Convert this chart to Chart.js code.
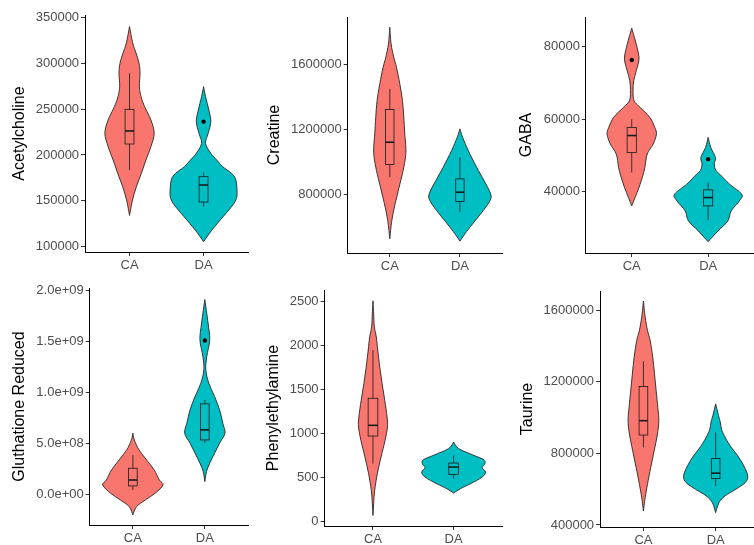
<!DOCTYPE html>
<html>
<head>
<meta charset="utf-8">
<script src="https://cdn.jsdelivr.net/npm/chart.js@4.4.1/dist/chart.umd.min.js"></script>
<style>
  html, body { margin: 0; padding: 0; background: #ffffff; overflow: hidden; width: 754px; height: 545px; }
  .panel { position: absolute; }
</style>
</head>
<body>
<script>
// ---- groups ----
const categories = ['CA', 'DA'];
const groupColors = ['#F8766D', '#00BFC4'];

// ---- violin outlines: levels (descending) and half-widths (in category units) ----
const achCA_y = [339760, 321700, 310800, 299900, 289000, 274400, 263500, 252600, 238100, 223600, 209000, 194500, 180000, 165400, 150900, 134000];
const achCA_w = [0, 0.044, 0.089, 0.129, 0.142, 0.133, 0.156, 0.204, 0.289, 0.333, 0.289, 0.222, 0.16, 0.093, 0.04, 0];
const achDA_y = [274400, 263500, 249000, 236300, 223500, 212600, 201700, 194400, 187200, 179900, 172700, 158100, 150900, 143600, 133000, 118000, 105400];
const achDA_w = [0, 0.027, 0.071, 0.098, 0.062, 0.027, 0.098, 0.178, 0.258, 0.378, 0.436, 0.453, 0.436, 0.378, 0.267, 0.111, 0];

const creCA_y = [1833000, 1730000, 1647000, 1585600, 1482500, 1379400, 1276300, 1173200, 1090700, 1028900, 946300, 843300, 740200, 637100, 523600];
const creCA_w = [0, 0.019, 0.057, 0.095, 0.143, 0.181, 0.2, 0.214, 0.229, 0.224, 0.19, 0.133, 0.076, 0.029, 0];
const creDA_y = [1204100, 1152600, 1070000, 967000, 884500, 802000, 760800, 698900, 616400, 554500, 509200];
const creDA_w = [0, 0.038, 0.119, 0.238, 0.343, 0.438, 0.429, 0.333, 0.181, 0.071, 0];

const gabaCA_y = [85060, 82570, 79820, 76600, 73380, 70620, 67860, 65100, 63270, 60510, 57750, 55910, 53150, 50390, 46710, 43950, 41200, 38440, 36140];
const gabaCA_w = [0, 0.034, 0.069, 0.095, 0.06, 0.026, 0.017, 0.03, 0.108, 0.237, 0.301, 0.323, 0.28, 0.202, 0.172, 0.138, 0.095, 0.043, 0];
const gabaDA_y = [54990, 52230, 49470, 47630, 45900, 44870, 42120, 39360, 37520, 34760, 32000, 29240, 26300];
const gabaDA_w = [0, 0.034, 0.095, 0.08, 0.1, 0.151, 0.28, 0.439, 0.409, 0.301, 0.258, 0.129, 0];

const gluCA_y = [6.0e8, 5.33e8, 4.35e8, 3.37e8, 2.39e8, 1.40e8, 9.1e7, 1.0e7, -5.6e7, -1.22e8, -2.03e8];
const gluCA_w = [0, 0.02, 0.086, 0.191, 0.296, 0.368, 0.419, 0.31, 0.173, 0.05, 0];
const gluDA_y = [1.910e9, 1.680e9, 1.516e9, 1.352e9, 1.221e9, 1.090e9, 9.59e8, 8.28e8, 6.97e8, 5.99e8, 5.01e8, 4.03e8, 3.05e8, 2.22e8, 1.24e8];
const gluDA_w = [0, 0.045, 0.068, 0.027, 0.014, 0.055, 0.136, 0.205, 0.25, 0.28, 0.205, 0.136, 0.068, 0.023, 0];

const pheCA_y = [2511, 2367, 2215, 2100, 1949, 1758, 1568, 1378, 1187, 1073, 921, 731, 541, 350, 199, 65];
const pheCA_w = [0, 0.008, 0.017, 0.041, 0.059, 0.084, 0.113, 0.146, 0.175, 0.179, 0.15, 0.1, 0.054, 0.021, 0.008, 0];
const pheDA_y = [902, 826, 750, 700, 655, 610, 560, 502, 426, 370, 320];
const pheDA_w = [0, 0.063, 0.25, 0.375, 0.388, 0.354, 0.396, 0.354, 0.209, 0.084, 0];

const tauCA_y = [1652100, 1562400, 1487800, 1431700, 1338100, 1245000, 1151400, 1057800, 983200, 908600, 814900, 721300, 627800, 553100, 478500];
const tauCA_w = [0, 0.024, 0.056, 0.093, 0.129, 0.153, 0.176, 0.199, 0.213, 0.194, 0.149, 0.101, 0.056, 0.024, 0];
const tauDA_y = [1076800, 1011200, 973800, 936600, 899100, 843000, 786900, 730800, 674700, 637300, 600000, 562600, 525100, 469000];
const tauDA_w = [0, 0.04, 0.065, 0.08, 0.12, 0.2, 0.305, 0.39, 0.444, 0.41, 0.28, 0.13, 0.046, 0];

// ---- box statistics: [lower whisker, Q1, median, Q3, upper whisker] ----
const achCA_box = [183600, 211900, 226100, 249700, 289000];
const achDA_box = [143600, 148700, 167200, 176300, 181000];
const creCA_box = [905100, 983500, 1121600, 1323700, 1451500];
const creDA_box = [688600, 754600, 812300, 894800, 1028900];
const gabaCA_box = [45330, 50850, 55500, 57750, 60050];
const gabaDA_box = [32190, 36140, 38440, 40550, 42580];
const gluCA_box = [4.2e7, 8.2e7, 1.40e8, 2.55e8, 3.86e8];
const gluDA_box = [5.04e8, 5.33e8, 6.32e8, 8.87e8, 9.26e8];
const pheCA_box = [655, 970, 1092, 1400, 1949];
const pheDA_box = [484, 533, 616, 662, 750];
const tauCA_box = [833600, 903000, 983200, 1173800, 1315700];
const tauDA_box = [618700, 659500, 689800, 771700, 917700];

// ---- outliers ----
const achCA_out = [];
const achDA_out = [236300];
const creCA_out = [];
const creDA_out = [];
const gabaCA_out = [76320];
const gabaDA_out = [49010];
const gluCA_out = [];
const gluDA_out = [1.509e9];
const pheCA_out = [];
const pheDA_out = [];
const tauCA_out = [];
const tauDA_out = [];

// ---- y tick values and labels ----
const achTicks = [100000, 150000, 200000, 250000, 300000, 350000];
const achTickLabels = ['100000', '150000', '200000', '250000', '300000', '350000'];
const creTicks = [800000, 1200000, 1600000];
const creTickLabels = ['800000', '1200000', '1600000'];
const gabaTicks = [40000, 60000, 80000];
const gabaTickLabels = ['40000', '60000', '80000'];
const gluTicks = [0, 5e8, 1e9, 1.5e9, 2e9];
const gluTickLabels = ['0.0e+00', '5.0e+08', '1.0e+09', '1.5e+09', '2.0e+09'];
const pheTicks = [0, 500, 1000, 1500, 2000, 2500];
const pheTickLabels = ['0', '500', '1000', '1500', '2000', '2500'];
const tauTicks = [400000, 800000, 1200000, 1600000];
const tauTickLabels = ['400000', '800000', '1200000', '1600000'];

// ---- panels ----
const panels = [
  { title: 'Acetylcholine', violins: [[achCA_y, achCA_w], [achDA_y, achDA_w]], boxes: [achCA_box, achDA_box], outliers: [achCA_out, achDA_out], ticks: achTicks, tickLabels: achTickLabels },
  { title: 'Creatine', violins: [[creCA_y, creCA_w], [creDA_y, creDA_w]], boxes: [creCA_box, creDA_box], outliers: [creCA_out, creDA_out], ticks: creTicks, tickLabels: creTickLabels },
  { title: 'GABA', violins: [[gabaCA_y, gabaCA_w], [gabaDA_y, gabaDA_w]], boxes: [gabaCA_box, gabaDA_box], outliers: [gabaCA_out, gabaDA_out], ticks: gabaTicks, tickLabels: gabaTickLabels },
  { title: 'Gluthatione Reduced', violins: [[gluCA_y, gluCA_w], [gluDA_y, gluDA_w]], boxes: [gluCA_box, gluDA_box], outliers: [gluCA_out, gluDA_out], ticks: gluTicks, tickLabels: gluTickLabels },
  { title: 'Phenylethylamine', violins: [[pheCA_y, pheCA_w], [pheDA_y, pheDA_w]], boxes: [pheCA_box, pheDA_box], outliers: [pheCA_out, pheDA_out], ticks: pheTicks, tickLabels: pheTickLabels },
  { title: 'Taurine', violins: [[tauCA_y, tauCA_w], [tauDA_y, tauDA_w]], boxes: [tauCA_box, tauDA_box], outliers: [tauCA_out, tauDA_out], ticks: tauTicks, tickLabels: tauTickLabels }
];

// ---- page geometry of each panel (title centre x, axis x, plot right, plot top, plot bottom, y range) ----
const frames = [
  { tx: 19.5,  ax: 85,    r: 250,   t: 15,    b: 252,   yMin: 94200,   yMax: 352500 },
  { tx: 274.2, ax: 347.3, r: 501,   t: 16.5,  b: 252,   yMin: 436000,  yMax: 1896400 },
  { tx: 526.7, ax: 586,   r: 756.5, t: 16.5,  b: 252,   yMin: 23172,   yMax: 88138 },
  { tx: 19.2,  ax: 89.3,  r: 250.6, t: 288.3, b: 525,   yMin: -3.016e8, yMax: 2.0236e9 },
  { tx: 274,   ax: 325,   r: 502,   t: 290,   b: 525.5, yMin: -55,     yMax: 2633.6 },
  { tx: 527.5, ax: 600,   r: 758.4, t: 290.7, b: 526,   yMin: 388800,  yMax: 1708200 }
];

const FONT = 'Liberation Sans, Arial, Helvetica, sans-serif';
const TICK_FONT = { family: FONT, size: 13 };
const TITLE_FONT = { family: FONT, size: 16, lineHeight: 1.2 };
const PAD_TOP = 10;
const X_AXIS_H = 28;
const BOX_WIDTH = 0.12;

// Catmull-Rom spline through pixel points, appended to the current path
function splineThrough(ctx, pts) {
  for (let i = 0; i < pts.length - 1; i++) {
    const p0 = pts[Math.max(i - 1, 0)], p1 = pts[i], p2 = pts[i + 1], p3 = pts[Math.min(i + 2, pts.length - 1)];
    ctx.bezierCurveTo(
      p1[0] + (p2[0] - p0[0]) / 6, p1[1] + (p2[1] - p0[1]) / 6,
      p2[0] - (p3[0] - p1[0]) / 6, p2[1] - (p3[1] - p1[1]) / 6,
      p2[0], p2[1]);
  }
}

function violinPlugin(panel) {
  return {
    id: 'violins',
    beforeDatasetsDraw(chart) {
      const ctx = chart.ctx;
      const xs = chart.scales.x, ys = chart.scales.y;
      ctx.save();
      panel.violins.forEach(([levels, widths], gi) => {
        const c = gi + 1;
        const right = levels.map((v, i) => [xs.getPixelForValue(c + widths[i]), ys.getPixelForValue(v)]);
        const left = levels.map((v, i) => [xs.getPixelForValue(c - widths[i]), ys.getPixelForValue(v)]).reverse();
        ctx.beginPath();
        ctx.moveTo(right[0][0], right[0][1]);
        splineThrough(ctx, right);
        splineThrough(ctx, left);
        ctx.closePath();
        ctx.fillStyle = groupColors[gi];
        ctx.fill();
        ctx.lineWidth = 0.9;
        ctx.strokeStyle = '#262626';
        ctx.stroke();
      });
      panel.boxes.forEach((box, gi) => {
        const c = gi + 1;
        const xl = xs.getPixelForValue(c - BOX_WIDTH / 2);
        const xr = xs.getPixelForValue(c + BOX_WIDTH / 2);
        const xc = xs.getPixelForValue(c);
        const [lo, q1, med, q3, hi] = box.map(v => ys.getPixelForValue(v));
        ctx.strokeStyle = '#1a1a1a';
        ctx.lineWidth = 0.8;
        ctx.beginPath();
        ctx.moveTo(xc, hi); ctx.lineTo(xc, q3);
        ctx.moveTo(xc, q1); ctx.lineTo(xc, lo);
        ctx.stroke();
        ctx.strokeRect(xl, q3, xr - xl, q1 - q3);
        ctx.lineWidth = 1.6;
        ctx.beginPath();
        ctx.moveTo(xl, med); ctx.lineTo(xr, med);
        ctx.stroke();
      });
      ctx.restore();
    }
  };
}

panels.forEach((panel, pi) => {
  const f = frames[pi];
  const left = f.tx - TITLE_FONT.size * TITLE_FONT.lineHeight / 2;
  const top = f.t - PAD_TOP;
  const width = Math.ceil(f.r - left) + 1;
  const height = Math.ceil(f.b + X_AXIS_H - top);
  const yAxisW = f.ax - left;

  const holder = document.createElement('div');
  holder.className = 'panel';
  holder.style.left = left + 'px';
  holder.style.top = top + 'px';
  holder.style.width = width + 'px';
  holder.style.height = height + 'px';
  const canvas = document.createElement('canvas');
  canvas.width = width;
  canvas.height = height;
  holder.appendChild(canvas);
  document.body.appendChild(holder);

  new Chart(canvas, {
    type: 'scatter',
    data: {
      datasets: categories.map((cat, gi) => ({
        label: cat,
        data: panel.outliers[gi].map(v => ({ x: gi + 1, y: v })),
        pointRadius: 2.2,
        pointBackgroundColor: '#000000',
        pointBorderWidth: 0
      }))
    },
    options: {
      responsive: false,
      animation: false,
      events: [],
      layout: { padding: { top: PAD_TOP, left: 0, right: 1, bottom: 0 } },
      plugins: { legend: { display: false }, tooltip: { enabled: false } },
      scales: {
        x: {
          type: 'linear',
          min: 0.4,
          max: 2.6,
          afterBuildTicks: s => { s.ticks = categories.map((c, i) => ({ value: i + 1 })); },
          afterFit: s => { s.height = X_AXIS_H; s.paddingLeft = 0; s.paddingRight = 0; },
          ticks: {
            callback: (v, i) => categories[i],
            color: '#4d4d4d',
            font: TICK_FONT,
            padding: 2,
            maxRotation: 0,
            autoSkip: false
          },
          grid: { display: true, drawOnChartArea: false, drawTicks: true, tickLength: 4, color: '#333333' },
          border: { display: true, color: '#000000', width: 1 }
        },
        y: {
          type: 'linear',
          min: f.yMin,
          max: f.yMax,
          afterBuildTicks: s => { s.ticks = panel.ticks.map(v => ({ value: v })); },
          afterFit: s => { s.width = yAxisW; s.paddingTop = 0; s.paddingBottom = 0; },
          ticks: {
            callback: (v, i) => panel.tickLabels[i],
            color: '#4d4d4d',
            font: TICK_FONT,
            padding: 2,
            autoSkip: false
          },
          grid: { display: true, drawOnChartArea: false, drawTicks: true, tickLength: 4, color: '#333333' },
          border: { display: true, color: '#000000', width: 1 },
          title: { display: true, text: panel.title, color: '#000000', font: TITLE_FONT, padding: 0 }
        }
      }
    },
    plugins: [violinPlugin(panel)]
  });
});
</script>
</body>
</html>
